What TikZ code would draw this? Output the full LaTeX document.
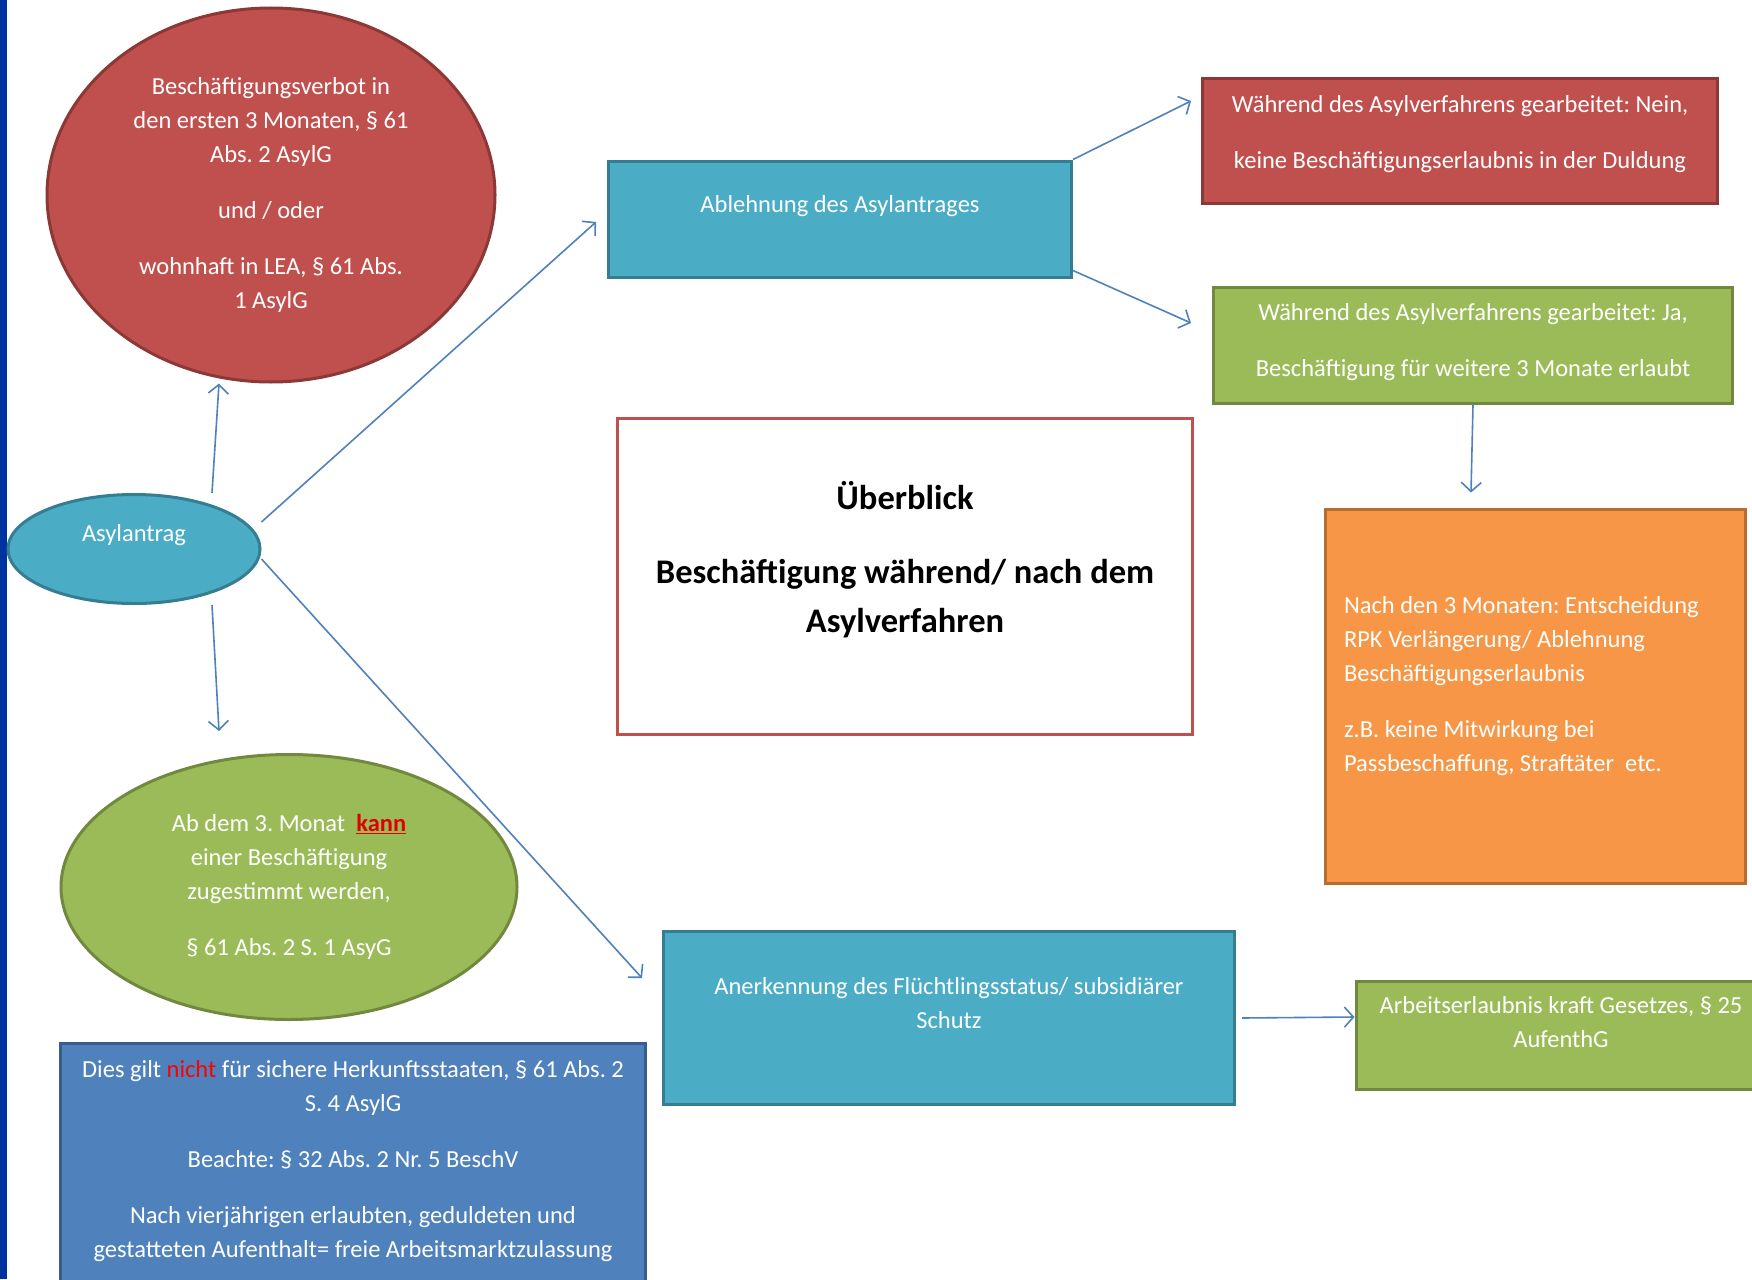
\documentclass[tikz,border=0pt]{standalone}
\usepackage{fontspec}
\setmainfont{Carlito}
\usetikzlibrary{shapes.geometric,arrows.meta}

\definecolor{randblau}{HTML}{0033A0}
\definecolor{rotfill}{HTML}{C0504D}
\definecolor{rotrand}{HTML}{8C3836}
\definecolor{aquafill}{HTML}{4BACC6}
\definecolor{aquarand}{HTML}{357D91}
\definecolor{gruenfill}{HTML}{9BBB59}
\definecolor{gruenrand}{HTML}{71893F}
\definecolor{blaufill}{HTML}{4F81BD}
\definecolor{blaurand}{HTML}{385D8A}
\definecolor{orangefill}{HTML}{F79646}
\definecolor{orangerand}{HTML}{B66D31}
\definecolor{pfeilblau}{HTML}{4F81BD}
\definecolor{kannrot}{HTML}{E00000}

\tikzset{
  ell/.style={ellipse,draw,line width=3pt,text=white,align=center,inner sep=0pt,
    font=\fontsize{24.5}{34}\selectfont},
  box/.style={rectangle,draw,line width=3pt,text=white,align=center,inner sep=0pt,
    font=\fontsize{24.5}{34}\selectfont},
  hoch/.style={text depth=#1},
  pfeil/.style={line width=1.6pt,pfeilblau,-{Straight Barb[length=9pt,width=20pt,line width=1.6pt]}}
}

\begin{document}
\frenchspacing
\begin{tikzpicture}[x=1pt,y=-1pt]
\clip (0,0) rectangle (1752,1279);
\fill[white] (0,0) rectangle (1752,1279);
\fill[randblau] (0,0) rectangle (7,1279);

% linke Seite
\node[ell,fill=rotfill,draw=rotrand,minimum width=448pt,minimum height=374pt] (verbot) at (271,195)
  {Beschäftigungsverbot in\\den ersten 3 Monaten, § 61\\Abs. 2 AsylG\\[22pt]und / oder\\[22pt]wohnhaft in LEA, § 61 Abs.\\1 AsylG};
\node[ell,fill=aquafill,draw=aquarand,minimum width=252pt,minimum height=109pt,hoch=33pt] (asyl) at (134,549) {Asylantrag};
\node[ell,fill=gruenfill,draw=gruenrand,minimum width=456pt,minimum height=265pt] (zustimmung) at (289,887)
  {Ab dem 3. Monat~~\textcolor{kannrot}{\underline{\textbf{kann}}}\\einer Beschäftigung\\zugestimmt werden,\\[22pt]§ 61 Abs. 2 S. 1 AsyG};
\node[box,fill=blaufill,draw=blaurand,minimum width=585pt,minimum height=260pt,anchor=north,hoch=29pt] (sicher) at (353,1042)
  {Dies gilt \textcolor{red}{nicht} für sichere Herkunftsstaaten, § 61 Abs. 2\\S. 4 AsylG\\[22pt]Beachte: § 32 Abs. 2 Nr. 5 BeschV\\[22pt]Nach vierjährigen erlaubten, geduldeten und\\gestatteten Aufenthalt= freie Arbeitsmarktzulassung};

% Mitte
\node[box,fill=aquafill,draw=aquarand,minimum width=463pt,minimum height=116pt,hoch=31pt] (ablehnung) at (840,219) {Ablehnung des Asylantrages};
\node[box,fill=white,draw=rotfill,text=black,minimum width=575pt,minimum height=316pt,hoch=39pt,
  font=\fontsize{34.5}{49}\selectfont\bfseries] (ueberblick) at (905,576)
  {Überblick\\[25pt]Beschäftigung während/ nach dem\\Asylverfahren};
\node[box,fill=aquafill,draw=aquarand,minimum width=571pt,minimum height=173pt,hoch=31pt] (anerk) at (949,1018)
  {Anerkennung des Flüchtlingsstatus/ subsidiärer\\Schutz};

% rechte Seite
\node[box,fill=rotfill,draw=rotrand,minimum width=515pt,minimum height=124pt,hoch=19pt] (nein) at (1460,141)
  {Während des Asylverfahrens gearbeitet: Nein,\\[22pt]keine Beschäftigungserlaubnis in der Duldung};
\node[box,fill=gruenfill,draw=gruenrand,minimum width=519pt,minimum height=116pt,hoch=10pt] (ja) at (1473,345)
  {Während des Asylverfahrens gearbeitet: Ja,\\[22pt]Beschäftigung für weitere 3 Monate erlaubt};
\node[box,fill=orangefill,draw=orangerand,minimum width=420pt,minimum height=374pt,hoch=183pt,
  text width=382pt,align=flush left] (rpk) at (1535,696)
  {Nach den 3 Monaten: Entscheidung\\RPK Verlängerung/ Ablehnung\\Beschäftigungserlaubnis\\[22pt]z.B. keine Mitwirkung bei\\Passbeschaffung, Straftäter~~etc.};
\node[box,fill=gruenfill,draw=gruenrand,minimum width=410pt,minimum height=108pt,hoch=27pt] (arbeit) at (1561,1035)
  {Arbeitserlaubnis kraft Gesetzes, § 25\\AufenthG};

% Pfeile
\draw[pfeil] ([xshift=78pt]asyl.north)--([xshift=-52pt]verbot.south);
\draw[pfeil] ([yshift=27pt]asyl.east)--([xshift=-11pt,yshift=-3pt]ablehnung.west);
\draw[pfeil] ([xshift=78pt]asyl.south)--([xshift=-70pt,yshift=22pt]zustimmung.north);
\draw[pfeil] ([yshift=-10pt]asyl.east)--([xshift=-20pt,yshift=-48pt]anerk.north west);
\draw[pfeil] (ablehnung.north east)--([xshift=-10pt,yshift=40pt]nein.west);
\draw[pfeil] ([yshift=8pt]ablehnung.south east)--([xshift=-21pt,yshift=22pt]ja.west);
\draw[pfeil] (ja.south)--([xshift=-64pt,yshift=15pt]rpk.north);
\draw[pfeil] ([xshift=6pt]anerk.east)--([yshift=18pt]arbeit.west);
\end{tikzpicture}
\end{document}
